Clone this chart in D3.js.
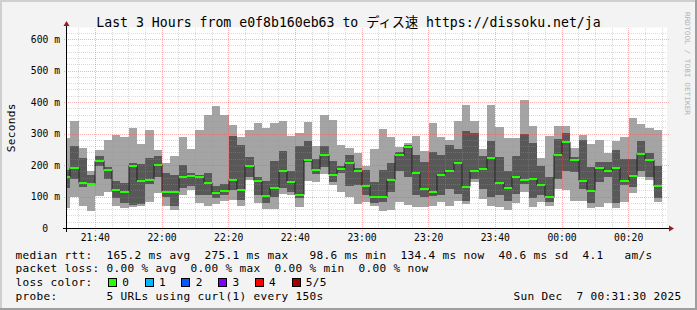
<!DOCTYPE html>
<html><head><meta charset="utf-8">
<script src="https://cdn.jsdelivr.net/npm/d3@7"></script>
<style>
body{margin:0;background:#f3f3f3}
svg{display:block}
text{white-space:pre}
</style>
</head><body><svg id="c" width="697" height="310"></svg>
<script>
// ---- data ----
const startTime = new Date(2025,11,6,21,31,30);
const endTime   = new Date(2025,11,7,0,31,30);
const firstStepEnd = new Date(2025,11,6,21,32,30);
const stepMs = 150000;

// sorted pings per step (5 URLs): lowest .. highest, median in the middle
const pingMin = [66,
 101,72,57,103,117,72,64,69,70,85,
 112,70,59,107,122,82,70,78,88,91,
 72,154,82,61,61,110,107,69,152,149,
 173,138,117,101,77,85,72,57,59,85,
 75,69,69,72,85,72,87,77,147,94,
 72,69,60,80,115,69,85,72,126,122,
 88,88,66,69,80,64,83,112,162,154,
 85];
const pingLow = [128,
 156,133,140,197,156,98,80,76,77,140,
 162,100,72,128,135,107,107,96,105,122,
 89,165,107,82,101,130,117,98,212,172,
 196,149,175,135,138,107,82,85,117,181,
 162,107,101,103,107,125,110,87,157,126,
 101,107,88,110,140,96,107,85,156,181,
 179,126,82,147,162,82,138,133,181,163,
 98];
const medianRtt = [165,
 193,143,142,215,186,121,117,200,152,155,
 202,117,116,165,166,164,145,113,120,155,
 123,200,151,104,130,181,149,107,218,187,
 233,171,190,209,181,135,101,100,154,233,
 259,176,126,117,170,184,208,133,181,189,
 225,145,127,165,155,157,138,98.6,234,275.1,
 216,152,120,193,181,193,151,168,238,218,
 134.4];
const pingHigh = [186,
 262,223,170,230,194,151,144,209,204,223,
 230,175,170,202,175,170,175,135,140,294,
 265,228,165,150,214,246,181,262,278,221,
 262,214,200,233,193,186,147,186,207,244,
 265,233,212,244,233,265,252,310,304,230,
 278,227,183,230,300,273,199,165,283,302,
 228,281,194,212,212,249,220,220,278,239,
 199];
const pingMax = [286,
 341,255,183,249,281,297,292,320,268,313,
 249,207,230,289,251,313,361,389,361,329,
 290,313,334,318,334,341,294,304,339,262,
 361,345,265,255,239,199,253,316,289,260,
 270,294,246,334,289,281,341,392,341,253,
 392,323,286,286,408,326,224,294,326,326,
 255,297,268,281,239,278,292,352,331,320,
 313];

const yTickValues = [0,100,200,300,400,500,600];
const yTickLabels = ["0","100 m","200 m","300 m","400 m","500 m","600 m"];
const lossLabels = ["0","1","2","3","4","5/5"];
const lossColors = ["#26ff00","#00b8ff","#0059ff","#7e00ff","#ff0000","#a00000"];

const titleText = "Last 3 Hours from e0f8b160eb63 to ディス速 https://dissoku.net/ja";
const legendRow1 = "median rtt:  165.2 ms avg  275.1 ms max   98.6 ms min  134.4 ms now  40.6 ms sd  4.1   am/s";
const legendRow2 = "packet loss: 0.00 % avg  0.00 % max  0.00 % min  0.00 % now";
const legendRow3 = "loss color:";
const legendRow4 = "probe:       5 URLs using curl(1) every 150s";
const dateText = "Sun Dec  7 00:31:30 2025";

// ---- layout ----
const W = 697, H = 310;
const L = 67, R = 667, T = 27.5, B = 228.5;
const svg = d3.select("#c");
const mono = "'DejaVu Sans Mono', 'Noto Sans CJK JP', monospace";

const x = d3.scaleTime().domain([startTime, endTime]).range([L, R]);
const y = d3.scaleLinear().domain([0, 638.1]).range([B, T]);

// background + frame
svg.append("rect").attr("width",W).attr("height",H).attr("fill","#f3f3f3");
svg.append("rect").attr("x",0).attr("y",0).attr("width",W).attr("height",2).attr("fill","#cfcfcf");
svg.append("rect").attr("x",0).attr("y",0).attr("width",2).attr("height",H).attr("fill","#cfcfcf");
svg.append("rect").attr("x",W-2).attr("y",0).attr("width",2).attr("height",H).attr("fill","#9e9e9e");
svg.append("rect").attr("x",0).attr("y",H-2).attr("width",W).attr("height",2).attr("fill","#9e9e9e");

// canvas
svg.append("rect").attr("x",L).attr("y",T).attr("width",R-L).attr("height",B-T).attr("fill","#ffffff");

const data = medianRtt.map((m,i)=>{
  const t1 = new Date(+firstStepEnd + i*stepMs);
  const t0 = new Date(Math.max(+startTime, +t1 - stepMs));
  return {t0,t1,min:pingMin[i],low:pingLow[i],med:m,high:pingHigh[i],max:pingMax[i]};
});
const px = v => Math.round(x(v));

// smoke
const smoke = svg.append("g").attr("shape-rendering","crispEdges");
smoke.selectAll("rect.outer").data(data).join("rect").attr("class","outer")
  .attr("x",d=>px(d.t0)).attr("width",d=>px(d.t1)-px(d.t0))
  .attr("y",d=>Math.round(y(d.max))).attr("height",d=>Math.round(y(d.min))-Math.round(y(d.max)))
  .attr("fill","#a4a4a4");
smoke.selectAll("rect.inner").data(data).join("rect").attr("class","inner")
  .attr("x",d=>px(d.t0)).attr("width",d=>px(d.t1)-px(d.t0))
  .attr("y",d=>Math.round(y(d.high))).attr("height",d=>Math.round(y(d.low))-Math.round(y(d.high)))
  .attr("fill","#585858");

// grid
const grid = svg.append("g").attr("shape-rendering","crispEdges").attr("fill","none");
const minorCol = "rgba(150,150,150,0.35)", majorCol = "rgba(255,70,70,0.42)";
const minorX = d3.timeMinute.every(5).range(startTime, endTime).filter(t=>t.getMinutes()%20!==0);
const majorX = d3.timeMinute.every(20).range(startTime, endTime);
grid.selectAll("line.mx").data(minorX).join("line")
  .attr("x1",d=>Math.floor(x(d))+0.5).attr("x2",d=>Math.floor(x(d))+0.5)
  .attr("y1",T).attr("y2",B).attr("stroke",minorCol).attr("stroke-dasharray","1,1");
const minorY = d3.range(20, 640, 20).filter(v=>v%100!==0);
grid.selectAll("line.my").data(minorY).join("line")
  .attr("x1",L).attr("x2",R).attr("y1",d=>Math.round(y(d)-0.5)+0.5).attr("y2",d=>Math.round(y(d)-0.5)+0.5)
  .attr("stroke",minorCol).attr("stroke-dasharray","1,1");
grid.selectAll("line.Mx").data(majorX).join("line")
  .attr("x1",d=>Math.floor(x(d))+0.5).attr("x2",d=>Math.floor(x(d))+0.5)
  .attr("y1",T).attr("y2",B+2).attr("stroke",majorCol).attr("stroke-dasharray","1,1");
grid.selectAll("line.My").data(yTickValues.slice(1)).join("line")
  .attr("x1",L-3).attr("x2",R+2).attr("y1",d=>Math.round(y(d)-0.5)+0.5).attr("y2",d=>Math.round(y(d)-0.5)+0.5)
  .attr("stroke",majorCol).attr("stroke-dasharray","1,1");

// median: dark step line then green loss-colored bars
const pts = data.map(d=>[px(d.t0), y(d.med)]);
pts.push([px(data[data.length-1].t1), y(data[data.length-1].med)]);
svg.append("path").attr("d", d3.line().curve(d3.curveStepAfter)(pts))
  .attr("fill","none").attr("stroke","#202020").attr("stroke-width",1);
svg.append("g").attr("shape-rendering","crispEdges").selectAll("rect").data(data).join("rect")
  .attr("x",d=>px(d.t0)).attr("width",d=>px(d.t1)-px(d.t0))
  .attr("y",d=>Math.round(y(d.med))-1).attr("height",2)
  .attr("fill",lossColors[0]);

// axes
const ax = svg.append("g");
ax.append("line").attr("x1",63).attr("x2",671).attr("y1",B).attr("y2",B).attr("stroke","#000").attr("shape-rendering","crispEdges");
ax.append("line").attr("x1",L-0.5).attr("x2",L-0.5).attr("y1",232).attr("y2",24).attr("stroke","#000").attr("shape-rendering","crispEdges");
ax.append("path").attr("d","M669,225.5L674,228.5L669,231.5Z").attr("fill","#9b1c1c");
ax.append("path").attr("d","M63.5,26L66.5,21L69.5,26Z").attr("fill","#9b1c1c");

// axis labels
svg.append("g").selectAll("text").data(yTickValues).join("text")
  .attr("x",(d,i)=> i===0 ? 48 : 60).attr("y",d=>y(d)+3.3)
  .attr("text-anchor","end").attr("font-family",mono).attr("font-size",9.7).attr("fill","#000")
  .text((d,i)=>yTickLabels[i]);
const fmt = d3.timeFormat("%H:%M");
svg.append("g").selectAll("text").data(majorX).join("text")
  .attr("x",d=>x(d)).attr("y",241).attr("text-anchor","middle")
  .attr("font-family",mono).attr("font-size",9.7).attr("fill","#000").text(d=>fmt(d));

svg.append("text").attr("transform","translate(15,127.7) rotate(-90)").attr("text-anchor","middle")
  .attr("font-family",mono).attr("font-size",11.1).attr("letter-spacing",0.32).attr("fill","#000").text("Seconds");

// title
svg.append("text").attr("x",W/2).attr("y",26.5).attr("text-anchor","middle")
  .attr("font-family",mono).attr("font-size",13.2).attr("fill","#000").text(titleText);

// watermark
svg.append("text").attr("transform","translate(685,12) rotate(90)")
  .attr("font-family",mono).attr("font-size",7).attr("fill","#b4b4b4")
  .attr("textLength",103).attr("lengthAdjust","spacingAndGlyphs").text("RRDTOOL / TOBI OETIKER");

// legend
const lg = svg.append("g").attr("font-family",mono).attr("font-size",11.1).attr("letter-spacing",0.32).attr("fill","#000");
lg.append("text").attr("x",15.5).attr("y",259).text(legendRow1);
lg.append("text").attr("x",15.5).attr("y",271.7).text(legendRow2);
lg.append("text").attr("x",15.5).attr("y",285.7).text(legendRow3);
lg.append("text").attr("x",15.5).attr("y",299.5).text(legendRow4);
lg.append("text").attr("x",681.5).attr("y",299.5).attr("text-anchor","end").text(dateText);
const items = lg.selectAll("g.item").data(lossLabels).join("g").attr("class","item")
  .attr("transform",(d,i)=>`translate(${108.5 + i*36.7},0)`);
items.append("rect").attr("x",0).attr("y",278.5).attr("width",8).attr("height",8)
  .attr("fill",(d,i)=>lossColors[i]).attr("stroke","#000").attr("stroke-width",1).attr("shape-rendering","crispEdges");
items.append("text").attr("x",13.8).attr("y",285.7).text(d=>d);
</script>
</body></html>
